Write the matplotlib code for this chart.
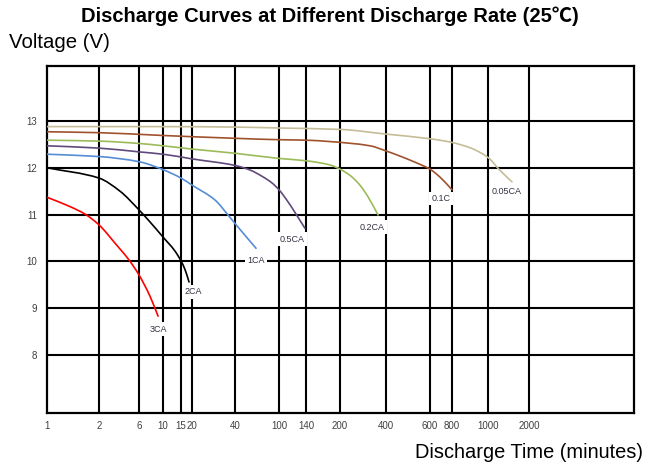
import numpy as np
import matplotlib
matplotlib.use("Agg")
import matplotlib.pyplot as plt
from matplotlib.path import Path
from matplotlib.patches import PathPatch

# ---------------- data ----------------
x_ticks = [1, 2, 6, 10, 15, 20, 40, 100, 140, 200, 400, 600, 800, 1000, 2000]
y_ticks = [8, 9, 10, 11, 12, 13]

labels = ["0.05CA", "0.1C", "0.2CA", "0.5CA", "1CA", "2CA", "3CA"]

t_005 = [1, 10, 40, 100, 200, 400, 600, 780, 900, 1000, 1220, 1500]
v_005 = [12.88, 12.88, 12.87, 12.85, 12.82, 12.72, 12.62, 12.55, 12.42, 12.22, 11.95, 11.70]

t_01 = [1, 2, 10, 40, 100, 140, 180, 314, 400, 455, 522, 600, 684, 800]
v_01 = [12.77, 12.75, 12.69, 12.63, 12.60, 12.59, 12.56, 12.47, 12.36, 12.25, 12.12, 11.97, 11.80, 11.53]

t_02 = [1, 2, 6, 10, 20, 40, 100, 140, 180, 200, 232, 270, 305, 355]
v_02 = [12.59, 12.57, 12.52, 12.47, 12.40, 12.31, 12.20, 12.15, 12.06, 11.97, 11.84, 11.63, 11.38, 10.99]

t_05 = [1, 2, 6, 10, 20, 40, 55, 70, 86, 100, 112, 125, 138]
v_05 = [12.47, 12.42, 12.34, 12.29, 12.19, 12.05, 11.95, 11.82, 11.68, 11.53, 11.27, 10.98, 10.71]

t_1 = [1, 2, 6, 10, 15, 20, 29, 36, 40, 62]
v_1 = [12.29, 12.24, 12.13, 11.96, 11.78, 11.63, 11.31, 10.98, 10.81, 10.28]

t_2 = [1, 2, 3.56, 6, 7.6, 10, 13.1, 15, 16.7, 18.5]
v_2 = [12.00, 11.78, 11.50, 11.10, 10.84, 10.52, 10.22, 10.01, 9.82, 9.56]

t_3 = [1, 1.36, 1.66, 2, 3.1, 4.56, 6, 7.6, 9.0]
v_3 = [11.37, 11.17, 11.01, 10.78, 10.39, 10.03, 9.71, 9.25, 8.83]

series_t = [t_005, t_01, t_02, t_05, t_1, t_2, t_3]
series_v = [v_005, v_01, v_02, v_05, v_1, v_2, v_3]
colors = ["#C4BD97", "#A0522D", "#9BBB59", "#604A7B", "#558ED5", "#000000", "#FF0000"]
# label offsets from curve end (pixels)
offsets = [(-5, -10), (-11, -8.5), (-6, -12), (-13, -11), (0, -12), (4, -10), (0, -13)]

# ---------------- custom x scale (non-uniform grid of the original) ----------------
grid_px = [47, 99, 139, 163, 181, 192, 235, 279, 306, 340, 386, 430, 452, 488, 529, 634]
anchor_vals = x_ticks + [5000]
la = np.log10(np.array(anchor_vals, dtype=float))
pos = (np.array(grid_px, dtype=float) - 47) / (634 - 47)


def fwd(x):
    x = np.asarray(x, dtype=float)
    return np.interp(np.log10(np.clip(x, 1e-9, None)), la, pos)


def inv(p):
    p = np.asarray(p, dtype=float)
    return 10 ** np.interp(p, pos, la)


def smooth_path(xs, ys):
    """Smoothed line (shape-preserving cubic Hermite drawn as Bezier) through the points."""
    xs = np.asarray(xs, dtype=float)
    ys = np.asarray(ys, dtype=float)
    n = len(xs)
    h = np.diff(xs)
    d = np.diff(ys) / h
    m = np.zeros(n)
    m[0], m[-1] = d[0], d[-1]
    for k in range(1, n - 1):
        if d[k - 1] * d[k] <= 0:
            m[k] = 0.0
        else:
            w1 = 2 * h[k] + h[k - 1]
            w2 = h[k] + 2 * h[k - 1]
            m[k] = (w1 + w2) / (w1 / d[k - 1] + w2 / d[k])
    verts = [(xs[0], ys[0])]
    codes = [Path.MOVETO]
    for i in range(n - 1):
        hh = h[i] / 3.0
        verts += [(xs[i] + hh, ys[i] + m[i] * hh),
                  (xs[i + 1] - hh, ys[i + 1] - m[i + 1] * hh),
                  (xs[i + 1], ys[i + 1])]
        codes += [Path.CURVE4] * 3
    return Path(verts, codes)


W, H = 654, 467
fig = plt.figure(figsize=(W / 100, H / 100), dpi=100)
ax = fig.add_axes([47 / W, 1 - 413 / H, (634 - 47) / W, (413 - 66) / H])
ax.set_xscale("function", functions=(fwd, inv))
ax.set_xlim(1, 5000)
ax.set_ylim(6.76, 14.175)

# grid
for xv in x_ticks[1:]:
    ax.axvline(xv, color="black", lw=1.5, zorder=1)
for yv in y_ticks:
    ax.axhline(yv, color="black", lw=1.5, zorder=1)
for s in ax.spines.values():
    s.set_linewidth(1.6)

ax.set_xticks(x_ticks)
ax.set_xticklabels([str(v) for v in x_ticks])
ax.set_yticks(y_ticks)
ax.set_yticklabels([str(v) for v in y_ticks])
ax.xaxis.set_minor_locator(matplotlib.ticker.NullLocator())
ax.tick_params(length=0, labelsize=7, labelcolor="#404040")
ax.tick_params(axis="x", pad=6)
ax.tick_params(axis="y", pad=7)
for lab in ax.get_xticklabels() + ax.get_yticklabels():
    lab.set_family("Liberation Sans")

xscale_tr = ax.xaxis.get_transform()
scaled_tr = ax.transLimits + ax.transAxes
for t, v, c, lab, off in zip(series_t, series_v, colors, labels, offsets):
    xs = xscale_tr.transform(np.asarray(t, dtype=float))
    path = smooth_path(xs, v)
    ax.add_patch(PathPatch(path, fc="none", ec=c, lw=1.2, transform=scaled_tr,
                           zorder=3, capstyle="round", joinstyle="round"))
    ax.annotate(lab, xy=(t[-1], v[-1]), xytext=off, textcoords="offset pixels",
                ha="center", va="center", fontsize=6.5, color="#333344",
                family="Liberation Sans", zorder=4,
                bbox=dict(boxstyle="square,pad=0.25", fc="white", ec="none"))

fig.text(330 / W, 1 - 16 / H, "Discharge Curves at Different Discharge Rate (25℃)",
         ha="center", va="center", fontsize=14.5, fontweight="bold",
         family=["Liberation Sans", "Noto Sans CJK SC", "DejaVu Sans"])
fig.text(9 / W, 1 - 43 / H, "Voltage (V)", ha="left", va="center", fontsize=14.7,
         family="Liberation Sans")
fig.text(643 / W, 1 - 453 / H, "Discharge Time (minutes)", ha="right", va="center",
         fontsize=14.4, family="Liberation Sans")

fig.savefig("out.png", dpi=100)
